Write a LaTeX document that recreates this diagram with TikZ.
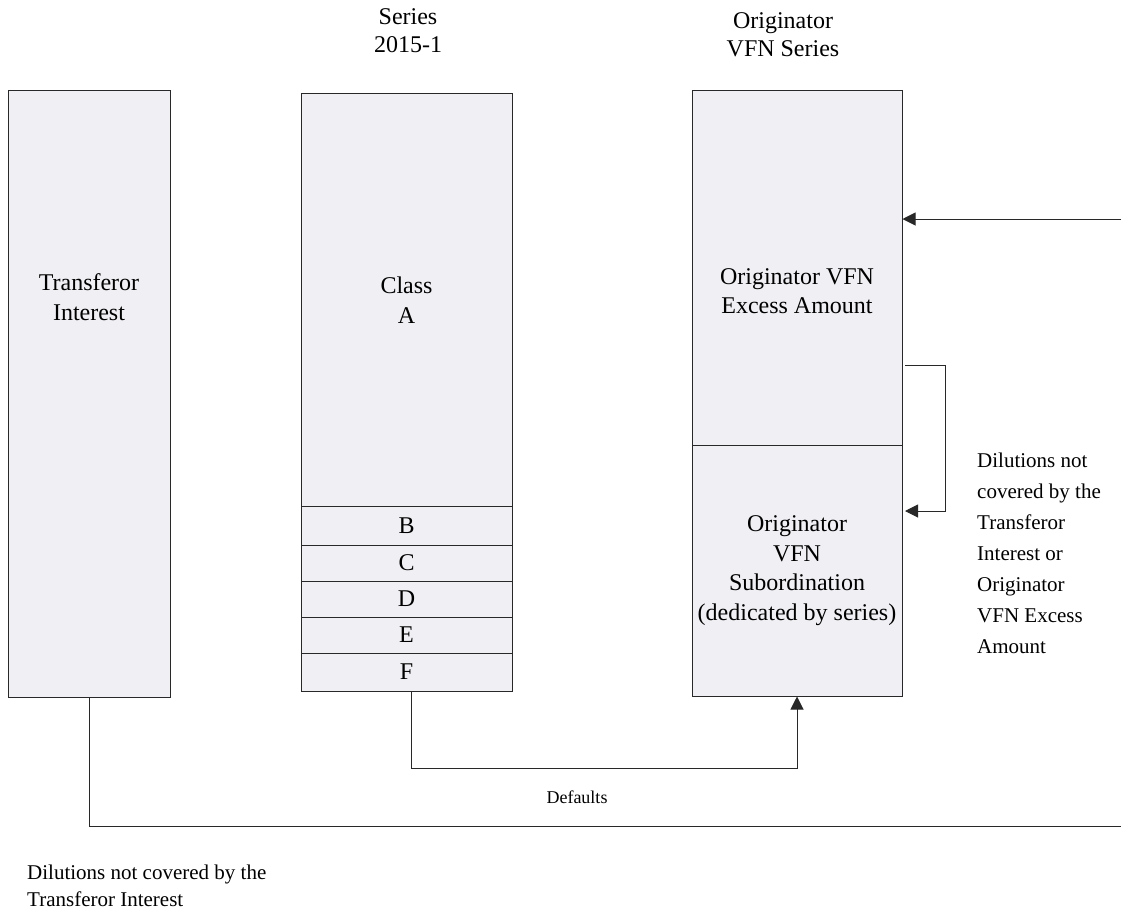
\documentclass[tikz,border=0pt]{standalone}
\usepackage{fontspec}
\setmainfont{Liberation Serif}
\usetikzlibrary{arrows.meta}
\definecolor{boxfill}{RGB}{240,239,244}
\definecolor{boxline}{RGB}{40,40,40}
\begin{document}
\begin{tikzpicture}[x=1pt,y=-1pt,
  box/.style={draw=boxline, fill=boxfill, line width=1pt, rectangle, inner sep=0pt},
  boxtext/.style={font=\fontsize{24}{29.5}\selectfont, align=center, inner sep=0pt},
  title/.style={font=\fontsize{24}{28}\selectfont, align=center, inner sep=0pt},
  note/.style={font=\fontsize{21}{31}\selectfont, align=left, inner sep=0pt},
  conn/.style={line width=1pt, draw=boxline},
  arr/.style={conn, -{Triangle[length=13pt,width=13pt]}}]
\useasboundingbox (0,0) rectangle (1121,911);
% titles
\node[title] (t1) at (408,31) {Series\\2015-1};
\node[title] (t2) at (783,35) {Originator\\VFN Series};
% transferor interest
\node[box, minimum width=162pt, minimum height=607pt] (ti) at (89,393.5) {};
\node[boxtext] (tit) at (89,297) {Transferor\\Interest};
% series 2015-1
\node[box, minimum width=211pt, minimum height=413pt] (A) at (406.5,299.5) {};
\node[boxtext] (At) at (406.5,300) {Class\\A};
\node[box, boxtext, minimum width=211pt, minimum height=39pt] (B) at (406.5,525.5) {B};
\node[box, boxtext, minimum width=211pt, minimum height=36pt] (C) at (406.5,563) {C};
\node[box, boxtext, minimum width=211pt, minimum height=36pt] (D) at (406.5,599) {D};
\node[box, boxtext, minimum width=211pt, minimum height=36pt] (E) at (406.5,635) {E};
\node[box, boxtext, minimum width=211pt, minimum height=38pt] (F) at (406.5,672) {F};
% originator VFN series
\node[box, minimum width=210pt, minimum height=355pt] (exc) at (797,267.5) {};
\node[boxtext] (exct) at (797,291) {Originator VFN\\Excess Amount};
\node[box, boxtext, minimum width=210pt, minimum height=251pt] (sub) at (797,570.5)
  {Originator\\VFN\\Subordination\\(dedicated by series)};
% notes
\node[note, anchor=west] (n1) at (977,553.5)
  {Dilutions not\\covered by the\\Transferor\\Interest or\\Originator\\VFN Excess\\Amount};
\node[font=\fontsize{18}{22}\selectfont, inner sep=0pt] (def) at (577,797) {Defaults};
\node[font=\fontsize{21}{27}\selectfont, align=left, anchor=west, inner sep=0pt] (n2) at (27,886)
  {Dilutions not covered by the\\Transferor Interest};
% connectors
\coordinate (in1) at (1121,219);
\draw[arr] (in1) -- (in1 -| exc.east);
\coordinate (b1) at (905,365);
\coordinate (b2) at (905,511);
\draw[arr] (b1) -- ++(40,0) |- (b2);
\draw[arr] ([xshift=4.5pt]F.south) -- ++(0,77) -| (sub.south);
\coordinate (out2) at (1121,826);
\draw[conn] (ti.south) |- (out2);
\end{tikzpicture}
\end{document}
